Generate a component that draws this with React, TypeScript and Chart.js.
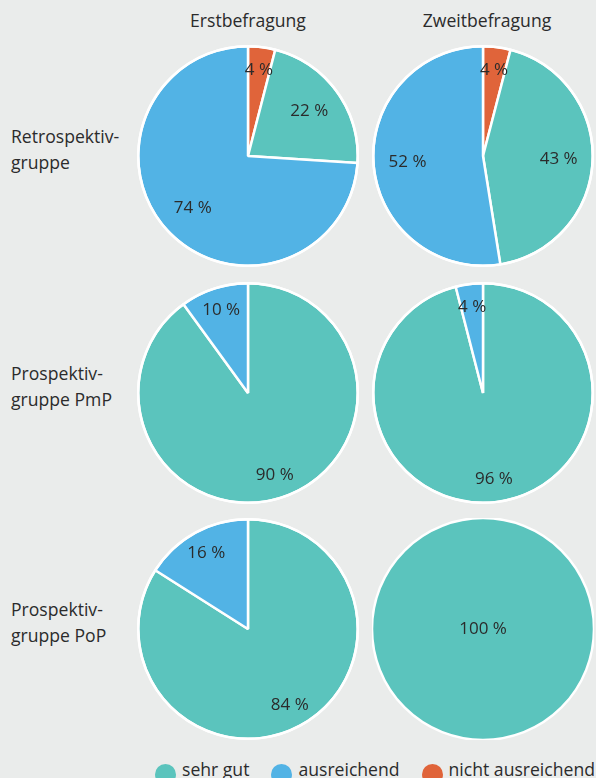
import React, { useEffect, useRef } from 'react';
import { Chart, registerables } from 'chart.js';
Chart.register(...registerables);

const categories = ['nicht ausreichend', 'sehr gut', 'ausreichend'];
const colors = ['#e0643a', '#5bc4bd', '#52b3e5'];
const legendOrder = [1, 2, 0];
const columnTitles = ['Erstbefragung', 'Zweitbefragung'];
const rowTitles = [
  ['Retrospektiv-', 'gruppe'],
  ['Prospektiv-', 'gruppe PmP'],
  ['Prospektiv-', 'gruppe PoP'],
];
const retroErst = [4, 22, 74];
const retroZweit = [4, 43, 52];
const pmpErst = [0, 90, 10];
const pmpZweit = [0, 96, 4];
const popErst = [0, 84, 16];
const popZweit = [0, 100, 0];

const grid = [
  [retroErst, retroZweit],
  [pmpErst, pmpZweit],
  [popErst, popZweit],
];

const colX = [248, 482.5];
const titleX = [248, 487];
const rowY = [156, 393, 629];
const SIZE = 222;
const TEXT = '#2b2b2b';
const FONT = '"Open Sans", sans-serif';
const FS = 17.6;

const labelPlugin = {
  id: 'sliceLabels',
  afterDatasetsDraw(chart: any) {
    const ctx = chart.ctx;
    const meta = chart.getDatasetMeta(0);
    const data = chart.data.datasets[0].data as number[];
    ctx.save();
    ctx.font = '17px ' + FONT;
    ctx.fillStyle = TEXT;
    ctx.textAlign = 'center';
    ctx.textBaseline = 'middle';
    meta.data.forEach((arc: any, i: number) => {
      const v = data[i];
      if (!v) return;
      const p = arc.getProps(['x', 'y', 'startAngle', 'endAngle', 'outerRadius'], true);
      let tx = p.x;
      let ty = p.y;
      if (v < 100) {
        const mid = (p.startAngle + p.endAngle) / 2;
        const f = v < 20 || v >= 80 ? 0.79 : 0.69;
        tx = p.x + Math.cos(mid) * p.outerRadius * f;
        ty = p.y + Math.sin(mid) * p.outerRadius * f;
      }
      ctx.fillText(`${v} %`, tx, ty);
    });
    ctx.restore();
  },
};

function Pie({ values, cx, cy }: { values: number[]; cx: number; cy: number }) {
  const ref = useRef<HTMLCanvasElement>(null);
  useEffect(() => {
    if (!ref.current) return;
    const chart = new Chart(ref.current, {
      type: 'pie',
      data: {
        labels: categories,
        datasets: [
          {
            data: values,
            backgroundColor: colors,
            borderColor: '#ffffff',
            borderWidth: values.map((v) => (v > 0 && v < 100 ? 2.5 : 0)),
          },
        ],
      },
      options: {
        responsive: false,
        maintainAspectRatio: false,
        animation: false,
        events: [],
        layout: { padding: 0 },
        plugins: { legend: { display: false }, tooltip: { enabled: false } },
      },
      plugins: [
        labelPlugin,
        {
          id: 'outerRing',
          afterDatasetsDraw(c: any) {
            const arc = c.getDatasetMeta(0).data.find((a: any, i: number) => values[i] > 0);
            if (!arc) return;
            const ctx = c.ctx;
            ctx.save();
            ctx.strokeStyle = '#ffffff';
            ctx.lineWidth = 2.5;
            ctx.beginPath();
            ctx.arc(arc.x, arc.y, arc.outerRadius, 0, Math.PI * 2);
            ctx.stroke();
            ctx.restore();
          },
        },
      ],
    });
    return () => chart.destroy();
  }, [values]);
  return (
    <canvas
      ref={ref}
      width={SIZE}
      height={SIZE}
      style={{
        position: 'absolute',
        left: cx - SIZE / 2,
        top: cy - SIZE / 2,
        width: SIZE,
        height: SIZE,
      }}
    />
  );
}

export default function App() {
  return (
    <div
      style={{
        position: 'absolute',
        left: 0,
        top: 0,
        width: 596,
        height: 778,
        overflow: 'hidden',
        background: '#eaeceb',
        fontFamily: FONT,
        color: TEXT,
      }}
    >
      {columnTitles.map((t, i) => (
        <div
          key={t}
          style={{
            position: 'absolute',
            left: titleX[i] - 100,
            width: 200,
            top: 8,
            textAlign: 'center',
            fontSize: FS,
            lineHeight: '24px',
          }}
        >
          {t}
        </div>
      ))}
      {rowTitles.map((lines, r) => (
        <div
          key={r}
          style={{
            position: 'absolute',
            left: 11,
            top: rowY[r] - 33,
            fontSize: FS,
            lineHeight: '26px',
          }}
        >
          {lines.map((l) => (
            <div key={l}>{l}</div>
          ))}
        </div>
      ))}
      {grid.map((row, r) =>
        row.map((vals, c) => <Pie key={`${r}-${c}`} values={vals} cx={colX[c]} cy={rowY[r]} />)
      )}
      <div
        style={{
          position: 'absolute',
          left: 155,
          top: 758,
          display: 'flex',
          alignItems: 'center',
          fontSize: FS,
          lineHeight: '22px',
          whiteSpace: 'nowrap',
        }}
      >
        {legendOrder.map((idx, k) => (
          <div key={idx} style={{ display: 'flex', alignItems: 'center', marginRight: k < 2 ? 22 : 0 }}>
            <span
              style={{
                display: 'inline-block',
                width: 21,
                height: 21,
                borderRadius: '50%',
                background: colors[idx],
                marginRight: 6,
                position: 'relative',
                top: 5,
              }}
            />
            <span>{categories[idx]}</span>
          </div>
        ))}
      </div>
    </div>
  );
}
